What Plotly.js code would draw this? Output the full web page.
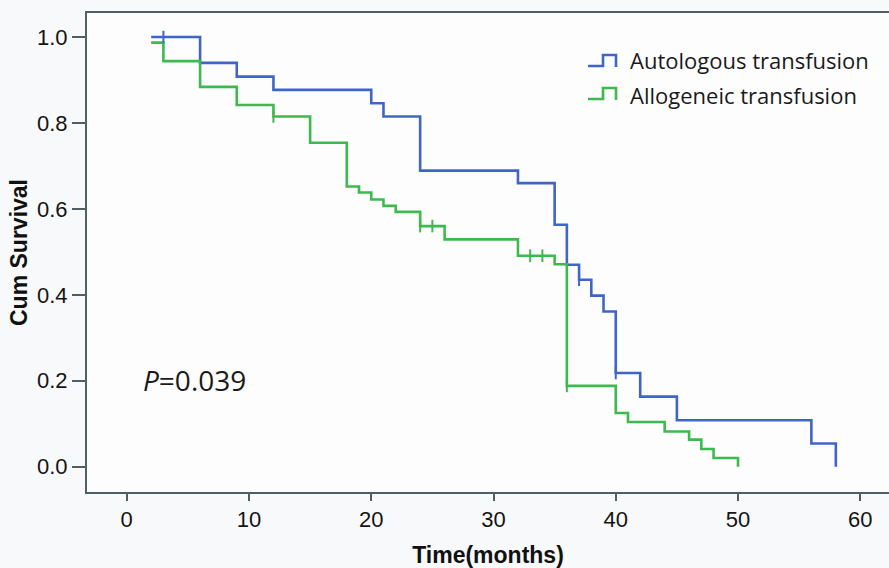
<!DOCTYPE html>
<html>
<head>
<meta charset="utf-8">
<script src="https://cdn.plot.ly/plotly-3.0.1.min.js"></script>
<style>html,body{margin:0;padding:0;background:#f8f9fb;}#chart{width:889px;height:568px;}</style>
</head>
<body>
<div id="chart"></div>
<script>
// Autologous transfusion (blue) Kaplan-Meier steps
var autoTime = [2, 6, 9, 12, 20, 21, 24, 32, 35, 36, 37, 38, 39, 40, 42, 45, 56, 58];
var autoSurv = [1.0, 0.940, 0.908, 0.877, 0.846, 0.815, 0.689, 0.660, 0.563, 0.470, 0.435, 0.398, 0.361, 0.218, 0.163, 0.108, 0.054, 0.0];
var autoCensTime = [3, 37, 40];
var autoCensSurv = [1.0, 0.435, 0.218];

// Allogeneic transfusion (green) Kaplan-Meier steps
var alloTime = [2, 3, 6, 9, 12, 15, 18, 19, 20, 21, 22, 24, 26, 32, 35, 36, 40, 41, 44, 46, 47, 48, 50];
var alloSurv = [0.987, 0.944, 0.884, 0.842, 0.815, 0.754, 0.652, 0.638, 0.622, 0.607, 0.593, 0.560, 0.529, 0.491, 0.471, 0.188, 0.125, 0.104, 0.082, 0.063, 0.041, 0.020, 0.0];
var alloCensTime = [12, 24, 25, 33, 34, 36];
var alloCensSurv = [0.815, 0.560, 0.560, 0.491, 0.491, 0.188];

var seriesNames = ["Autologous transfusion", "Allogeneic transfusion"];
var xTicks = [0, 10, 20, 30, 40, 50, 60];
var yTicks = [0.0, 0.2, 0.4, 0.6, 0.8, 1.0];
var pText = "<i>P</i>=0.039";

var BLUE = "#3f66c6";
var GREEN = "#3dba4e";
var FRAME = "#4f5f66";

var W = 889, H = 568;
var M = {l: 87, r: 0, t: 13, b: 76};
function px2x(px) { return (px - M.l) / (W - M.l - M.r); }
function py2y(py) { return (H - M.b - py) / (H - M.t - M.b); }

var traces = [
  {x: autoTime, y: autoSurv, mode: "lines", line: {shape: "hv", color: BLUE, width: 2.6}, name: seriesNames[0], showlegend: false},
  {x: alloTime, y: alloSurv, mode: "lines", line: {shape: "hv", color: GREEN, width: 2.6}, name: seriesNames[1], showlegend: false},
  {x: autoCensTime, y: autoCensSurv, mode: "markers", marker: {symbol: "line-ns-open", size: 9, color: BLUE, line: {color: BLUE, width: 2}}, showlegend: false, hoverinfo: "skip"},
  {x: alloCensTime, y: alloCensSurv, mode: "markers", marker: {symbol: "line-ns-open", size: 9, color: GREEN, line: {color: GREEN, width: 2}}, showlegend: false, hoverinfo: "skip"}
];

function glyph(yLow, yTop, color) {
  var p = "M " + px2x(588) + "," + py2y(yLow) + " L " + px2x(603) + "," + py2y(yLow) +
          " L " + px2x(603) + "," + py2y(yTop) + " L " + px2x(616) + "," + py2y(yTop) +
          " L " + px2x(616) + "," + py2y(yLow + 1);
  return {type: "path", xref: "paper", yref: "paper", path: p, line: {color: color, width: 2.6}};
}

var layout = {
  width: W, height: H,
  margin: M,
  paper_bgcolor: "#f8f9fb",
  plot_bgcolor: "#fdfdfe",
  showlegend: false,
  xaxis: {
    range: [-3.25, 62.35],
    tickvals: xTicks, ticktext: xTicks.map(String),
    ticks: "outside", ticklen: 7, tickwidth: 2, tickcolor: FRAME,
    showline: true, linecolor: FRAME, linewidth: 2, mirror: true,
    showgrid: false, zeroline: false,
    tickfont: {family: "Liberation Sans, Arial, sans-serif", size: 22, color: "#141414"},
    title: {text: "<b>Time(months)</b>", font: {family: "Liberation Sans, Arial, sans-serif", size: 23, color: "#111"}, standoff: 16}
  },
  yaxis: {
    range: [-0.059, 1.056],
    tickvals: yTicks, ticktext: yTicks.map(function (v) { return v.toFixed(1); }),
    ticks: "outside", ticklen: 13, tickwidth: 2, tickcolor: FRAME,
    showline: true, linecolor: FRAME, linewidth: 2, mirror: false,
    showgrid: false, zeroline: false,
    tickfont: {family: "Liberation Sans, Arial, sans-serif", size: 22, color: "#141414"},
    title: {text: "<b>Cum Survival</b>", font: {family: "Liberation Sans, Arial, sans-serif", size: 23, color: "#111"}, standoff: 3}
  },
  shapes: [glyph(66, 55, BLUE), glyph(99, 88, GREEN)],
  annotations: [
    {xref: "paper", yref: "paper", x: px2x(628), y: py2y(60), xanchor: "left", yanchor: "middle", showarrow: false,
     text: seriesNames[0], font: {family: "Open Sans, sans-serif", size: 22, color: "#1a1a1a"}},
    {xref: "paper", yref: "paper", x: px2x(628), y: py2y(95), xanchor: "left", yanchor: "middle", showarrow: false,
     text: seriesNames[1], font: {family: "Open Sans, sans-serif", size: 22, color: "#1a1a1a"}},
    {xref: "paper", yref: "paper", x: px2x(141), y: py2y(380), xanchor: "left", yanchor: "middle", showarrow: false,
     text: pText, font: {family: "Open Sans, sans-serif", size: 28, color: "#1a1a1a"}}
  ]
};

Plotly.newPlot("chart", traces, layout, {displayModeBar: false, staticPlot: true});
</script>
</body>
</html>
